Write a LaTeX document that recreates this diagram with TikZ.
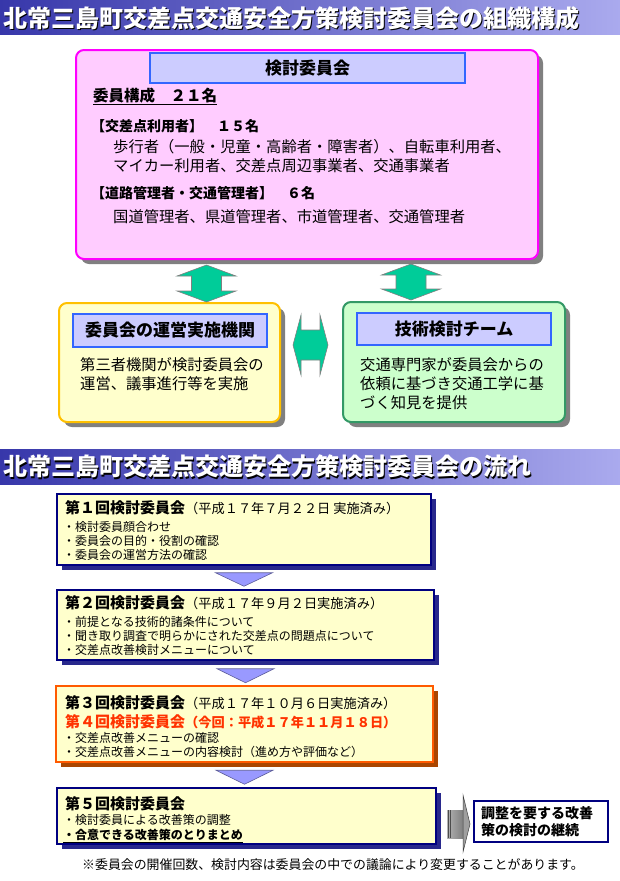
\documentclass[tikz,border=0pt]{standalone}
\usepackage{fontspec}
\setmainfont{Noto Sans CJK JP}
\usepackage{tikz}
\usetikzlibrary{calc}
\usetikzlibrary{shadows}

\definecolor{hdrL}{RGB}{55,55,170}
\definecolor{hdrR}{RGB}{170,170,238}
\definecolor{pinkF}{RGB}{255,204,255}
\definecolor{pinkD}{RGB}{255,0,255}
\definecolor{ttlF}{RGB}{204,204,255}
\definecolor{ttlD}{RGB}{51,102,255}
\definecolor{yelF}{RGB}{255,255,204}
\definecolor{yelD}{RGB}{255,192,0}
\definecolor{grnF}{RGB}{204,255,204}
\definecolor{grnD}{RGB}{51,153,102}
\definecolor{blkF}{RGB}{0,204,153}
\definecolor{navyD}{RGB}{0,0,128}
\definecolor{navyS}{RGB}{40,40,140}
\definecolor{orgD}{RGB}{255,90,0}
\definecolor{orgS}{RGB}{170,70,0}
\definecolor{triF}{RGB}{153,153,255}
\definecolor{redT}{RGB}{255,51,0}

\begin{document}
\begin{tikzpicture}[x=1pt, y=-1pt,
    bar/.style={left color=hdrL, right color=hdrR, inner sep=0pt, anchor=north west, minimum width=620pt},
    hdr/.style={inner sep=0pt, anchor=west, font=\bfseries\fontsize{24}{28}\selectfont},
    bigbox/.style={rounded corners=8pt, line width=2pt, drop shadow={shadow xshift=5pt, shadow yshift=-5pt, fill=gray, opacity=1}},
    ttlbox/.style={draw=ttlD, fill=ttlF, line width=1.5pt, inner sep=0pt, font=\bfseries\fontsize{17}{20}\selectfont},
    txt/.style={inner sep=0pt, anchor=west, font=\fontsize{15.3}{18}\selectfont},
    bld/.style={inner sep=0pt, anchor=west, font=\bfseries\fontsize{14}{17}\selectfont},
    sml/.style={inner sep=0pt, anchor=west, font=\fontsize{12}{14}\selectfont},
    flow/.style={fill=yelF, draw=navyD, line width=1.5pt, drop shadow={shadow xshift=5pt, shadow yshift=-5pt, fill=navyS, opacity=1}},
    blk/.style={fill=blkF, draw=gray, line width=0.6pt},
    tri/.style={fill=triF, draw=triF!60!black, line width=0.6pt}]
    \useasboundingbox (0,0) rectangle (620,881);

    % Заголовок 1
    \node[bar, minimum height=34pt] (bar1) at (0,0) {};
    \node[hdr, black] (hdr1s) at (4.5,19.5) {北常三島町交差点交通安全方策検討委員会の組織構成};
    \node[hdr, white] (hdr1) at (3,18) {北常三島町交差点交通安全方策検討委員会の組織構成};

    % Комитет
    \node[bigbox, draw=pinkD, fill=pinkF, minimum width=462pt, minimum height=209pt] (kom) at (307,154.5) {};
    \node[ttlbox, minimum width=315pt, minimum height=30pt] (kt) at (307.5,68) {検討委員会};
    \node[txt, font=\bfseries\fontsize{15.5}{18}\selectfont] (kosei) at (93,96) {委員構成　２１名};
    \draw[line width=1pt] ([yshift=-3pt]kosei.base west) -- ([yshift=-3pt]kosei.base east);
    \node[bld] (riyo) at (91,126) {【交差点利用者】　１５名};
    \node[txt] (riyoA) at (113,147) {歩行者（一般・児童・高齢者・障害者）、自転車利用者、};
    \node[txt] (riyoB) at (113,166) {マイカー利用者、交差点周辺事業者、交通事業者};
    \node[bld] (kanri) at (91,193) {【道路管理者・交通管理者】　６名};
    \node[txt] (kanriA) at (113,217) {国道管理者、県道管理者、市道管理者、交通管理者};

    % Два нижних блока
    \node[bigbox, draw=yelD, fill=yelF, minimum width=221pt, minimum height=119pt] (unei) at (169.5,362.5) {};
    \node[ttlbox, minimum width=194pt, minimum height=33pt] (uneiT) at (170,330.5) {委員会の運営実施機関};
    \node[txt] (uneiA) at (80,365) {第三者機関が検討委員会の};
    \node[txt] (uneiB) at (80,384) {運営、議事進行等を実施};

    \node[bigbox, draw=grnD, fill=grnF, minimum width=222pt, minimum height=120pt] (gijutsu) at (454,362) {};
    \node[ttlbox, minimum width=194pt, minimum height=32pt] (gijutsuT) at (454,329) {技術検討チーム};
    \node[txt] (gijutsuA) at (360,365) {交通専門家が委員会からの};
    \node[txt] (gijutsuB) at (360,384) {依頼に基づき交通工学に基};
    \node[txt] (gijutsuC) at (360,403) {づく知見を提供};

    % Двойные стрелки
    \coordinate (v1a) at (206.5,265);
    \coordinate (v1b) at (206.5,302);
    \draw[blk] (v1a) -- ++(29.5,11) -- ++(-14.5,0) -- ($(v1b)+(15,-11)$) -- ++(14.5,0) -- (v1b)
        -- ++(-29.5,-11) -- ++(14.5,0) -- ($(v1a)+(-15,11)$) -- ++(-14.5,0) -- cycle;
    \coordinate (v2a) at (411,264);
    \coordinate (v2b) at (411,300);
    \draw[blk] (v2a) -- ++(29.5,11) -- ++(-14.5,0) -- ($(v2b)+(15,-11)$) -- ++(14.5,0) -- (v2b)
        -- ++(-29.5,-11) -- ++(14.5,0) -- ($(v2a)+(-15,11)$) -- ++(-14.5,0) -- cycle;
    \coordinate (h1a) at (293,345);
    \coordinate (h1b) at (328,345);
    \draw[blk] (h1a) -- ++(8,-30) -- ++(0,15) -- ($(h1b)+(-8,-15)$) -- ++(0,-15) -- (h1b)
        -- ++(-8,30) -- ++(0,-15) -- ($(h1a)+(8,15)$) -- ++(0,15) -- cycle;

    % Заголовок 2
    \node[bar, minimum height=35pt] (bar2) at (0,449) {};
    \node[hdr, black] (hdr2s) at (4.5,468) {北常三島町交差点交通安全方策検討委員会の流れ};
    \node[hdr, white] (hdr2) at (3,466.5) {北常三島町交差点交通安全方策検討委員会の流れ};

    % Этапы
    \node[flow, minimum width=374pt, minimum height=71pt] (f1) at (244,529.5) {};
    \node[sml] (f1t) at (65,508) {{\bfseries\fontsize{15}{18}\selectfont 第１回検討委員会}{\fontsize{13.2}{16}\selectfont （平成１７年７月２２日 実施済み）}};
    \node[sml] (f1a) at (63,527) {・検討委員顔合わせ};
    \node[sml] (f1b) at (63,541) {・委員会の目的・役割の確認};
    \node[sml] (f1c) at (63,555) {・委員会の運営方法の確認};

    \node[flow, minimum width=377pt, minimum height=70pt] (f2) at (245.5,625) {};
    \node[sml] (f2t) at (65,603) {{\bfseries\fontsize{15}{18}\selectfont 第２回検討委員会}{\fontsize{13.2}{16}\selectfont （平成１７年９月２日実施済み）}};
    \node[sml] (f2a) at (63,622) {・前提となる技術的諸条件について};
    \node[sml] (f2b) at (63,636) {・聞き取り調査で明らかにされた交差点の問題点について};
    \node[sml] (f2c) at (63,650) {・交差点改善検討メニューについて};

    \node[flow, draw=orgD, line width=2.5pt, drop shadow={shadow xshift=5pt, shadow yshift=-5pt, fill=orgS, opacity=1}, minimum width=377pt, minimum height=76pt] (f3) at (244.5,724) {};
    \node[sml] (f3t) at (65,703) {{\bfseries\fontsize{15}{18}\selectfont 第３回検討委員会}{\fontsize{13.2}{16}\selectfont （平成１７年１０月６日実施済み）}};
    \node[sml, text=redT, font=\bfseries\fontsize{12}{14}\selectfont] (f4t) at (65,722) {{\fontsize{15}{18}\selectfont 第４回検討委員会}{\fontsize{13.2}{16}\selectfont （今回：平成１７年１１月１８日）}};
    \node[sml] (f3a) at (63,738) {・交差点改善メニューの確認};
    \node[sml] (f3b) at (63,752) {・交差点改善メニューの内容検討（進め方や評価など）};

    \node[flow, minimum width=379pt, minimum height=56pt] (f5) at (246.5,816) {};
    \node[sml, font=\bfseries\fontsize{15}{18}\selectfont] (f5t) at (65,804) {第５回検討委員会};
    \node[sml] (f5a) at (63,820) {・検討委員による改善策の調整};
    \node[sml, font=\bfseries\fontsize{12}{14}\selectfont] (f5b) at (63,835) {・合意できる改善策のとりまとめ};
    \draw[line width=0.8pt] ([yshift=-2.5pt]f5b.base west) -- ([yshift=-2.5pt]f5b.base east);

    % Треугольники между этапами
    \draw[tri] ($(f1.south)+(-28.5,7)$) -- ($(f1.south)+(28.5,7)$) -- ($(f1.south |- f2.north)+(0,-3)$) -- cycle;
    \draw[tri] ($(f2.south)+(-28.5,8)$) -- ($(f2.south)+(28.5,8)$) -- ($(f2.south |- f3.north)+(0,-2)$) -- cycle;
    \draw[tri] ($(f3.south)+(-28.5,7)$) -- ($(f3.south)+(28.5,7)$) -- ($(f3.south |- f5.north)+(0,-3)$) -- cycle;

    % Продолжение
    \node[draw=navyD, fill=white, line width=1.5pt, minimum width=134pt, minimum height=41pt, inner sep=0pt,
        text width=120pt, align=left, font=\bfseries\fontsize{14}{17}\selectfont] (keizoku) at (541,821.5) {調整を要する改善\\策の検討の継続};
    \coordinate (g0) at (447,824);
    \coordinate (g1) at (470,824);
    \fill[left color=gray!60, right color=gray] ($(g0)+(0,-14)$) rectangle ($(g1)+(-7,14)$);
    \draw[black!70, line width=0.5pt] ($(g0)+(1.5,-14)$) -- ($(g0)+(1.5,14)$);
    \draw[black!70, line width=0.5pt] ($(g0)+(3.5,-14)$) -- ($(g0)+(3.5,14)$);
    \draw[gray!50!black, fill=gray!75, line width=0.5pt] ($(g1)+(-7,-29)$) -- (g1) -- ($(g1)+(-7,28)$) -- cycle;

    % Примечание
    \node[txt, font=\fontsize{12.9}{15}\selectfont] (note) at (82,865) {※委員会の開催回数、検討内容は委員会の中での議論により変更することがあります。};
\end{tikzpicture}
\end{document}
